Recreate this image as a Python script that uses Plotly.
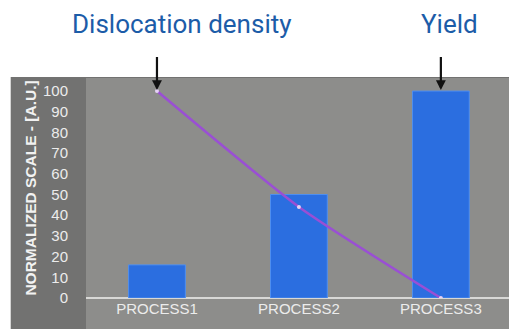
import plotly.graph_objects as go

# Process comparison: yield (bars) vs dislocation density (line), normalized scale
processes = ["PROCESS1", "PROCESS2", "PROCESS3"]
yield_values = [16, 50, 100]
dislocation_density = [100, 44, 0]
y_ticks = [0, 10, 20, 30, 40, 50, 60, 70, 80, 90, 100]

fig = go.Figure()

fig.add_trace(go.Bar(
    x=processes,
    y=yield_values,
    width=0.4,
    marker=dict(color="#2b6ee0", line=dict(color="#4f8ff0", width=1)),
    showlegend=False,
))

fig.add_trace(go.Scatter(
    x=processes,
    y=dislocation_density,
    mode="lines+markers",
    line=dict(color="#9a4fd4", width=2.5, shape="spline", smoothing=0.6),
    marker=dict(size=4, color="#e6d2f5"),
    showlegend=False,
))

# Gray panel behind the chart, plus a lighter plotting region
fig.add_shape(type="rect", xref="paper", yref="paper",
              x0=-0.178, x1=1.01, y0=-0.15, y1=1.005,
              fillcolor="#727271", line=dict(width=0), layer="below")
fig.add_shape(type="rect", xref="paper", yref="paper",
              x0=0.0, x1=1.01, y0=-0.15, y1=1.0,
              fillcolor="#8d8d8b", line=dict(width=0), layer="below")

title_font = dict(family="Roboto", size=26, color="#1c5ca8")
fig.add_annotation(text="Dislocation density", xref="paper", yref="paper",
                   x=(182 - 86) / 423, y=1.0 + 54 / 220, xanchor="center",
                   yanchor="middle", showarrow=False, font=title_font)
fig.add_annotation(text="Yield", xref="paper", yref="paper",
                   x=(449 - 86) / 423, y=1.0 + 54 / 220, xanchor="center",
                   yanchor="middle", showarrow=False, font=title_font)

# Pointer arrows from the titles down to the series
for cat, val in [("PROCESS1", dislocation_density[0]), ("PROCESS3", yield_values[2])]:
    fig.add_annotation(x=cat, y=val, xref="x", yref="y", text=" ",
                       showarrow=True, ax=0, ay=-44, standoff=1,
                       arrowhead=2, arrowsize=0.9, arrowwidth=2.2, arrowcolor="#111111")

fig.update_layout(
    width=509, height=329,
    margin=dict(l=86, r=0, t=78, b=31),
    paper_bgcolor="white",
    plot_bgcolor="rgba(0,0,0,0)",
    xaxis=dict(
        range=[-0.5, 2.48],
        showgrid=False, zeroline=False,
        showline=False,
        tickfont=dict(family="Liberation Sans", size=15, color="#ececec"),
        ticks="",
    ),
    yaxis=dict(
        range=[0, 106.3],
        tickvals=y_ticks,
        showgrid=False,
        zeroline=True, zerolinecolor="#d8d8d6", zerolinewidth=1.5,
        tickfont=dict(family="Liberation Sans", size=15, color="#ececec"),
        ticks="outside", ticklen=14, tickcolor="rgba(0,0,0,0)",
        title=dict(text="<b>NORMALIZED SCALE - [A.U.]</b>",
                   font=dict(family="Liberation Sans", size=15.5, color="#f2f2f2"),
                   standoff=2),
    ),
)

fig.write_html("out.html")
